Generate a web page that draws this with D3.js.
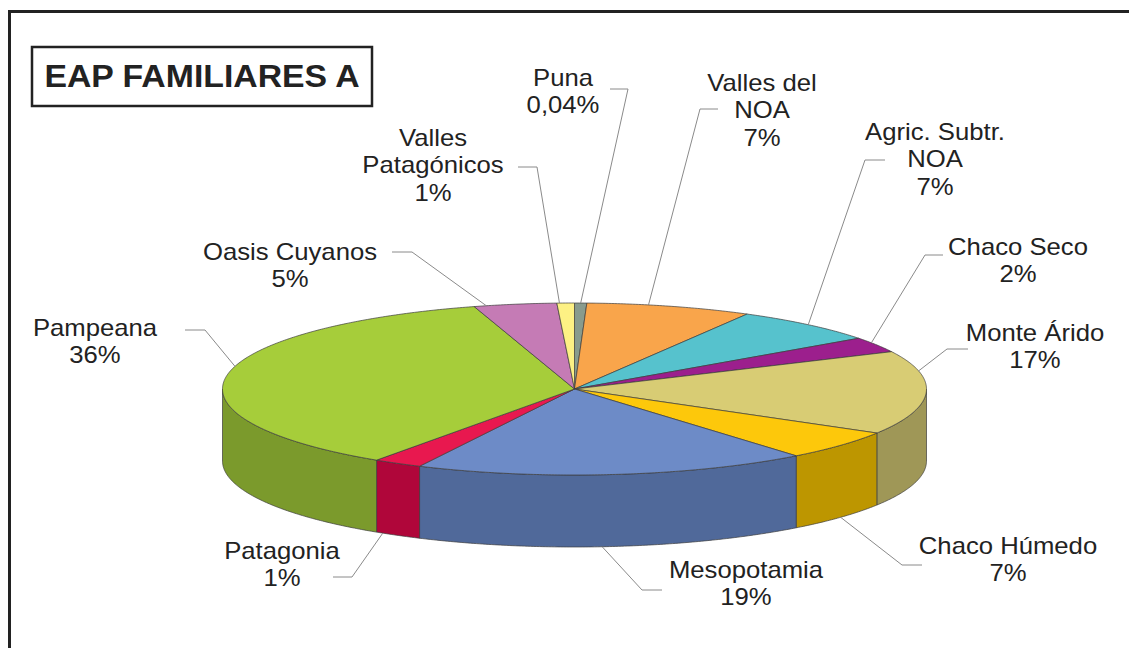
<!DOCTYPE html>
<html><head><meta charset="utf-8">
<script src="https://cdn.jsdelivr.net/npm/d3@7"></script>
<style>html,body{margin:0;padding:0;background:#fff;} svg{display:block;font-family:"Liberation Sans",Arial,sans-serif;}</style>
</head><body><svg id="c" width="1129" height="648"></svg>
<script>
// ---- data ----
const regions = ["Puna","Valles del NOA","Agric. Subtr. NOA","Chaco Seco","Monte Árido","Chaco Húmedo","Mesopotamia","Patagonia","Pampeana","Oasis Cuyanos","Valles Patagónicos"];
const sliceShares = [0.56, 7.6, 6.8, 2.9, 15.7, 5.6, 18.1, 2.25, 35.9, 3.8, 0.8];
const pctLabels = ["0,04%","7%","7%","2%","17%","7%","19%","1%","36%","5%","1%"];
const nameLines = [["Puna"],["Valles del","NOA"],["Agric. Subtr.","NOA"],["Chaco Seco"],["Monte Árido"],["Chaco Húmedo"],["Mesopotamia"],["Patagonia"],["Pampeana"],["Oasis Cuyanos"],["Valles","Patagónicos"]];
const topColors  = ["#889b8d","#f9a54b","#56c2cd","#9c1f8d","#d8cc74","#fdc80b","#6d8bc7","#e8184f","#a6cd3a","#c57bb5","#fdf184"];
const sideColors = ["#66756a","#c17e36","#3f959e","#74156a","#9f9757","#bd9600","#50699a","#b0063a","#7b9a2c","#955c88","#c2b862"];
const titleText = "EAP FAMILIARES A";

// ---- layout (annotation placement) ----
const labelX   = [563, 762, 935, 1018, 1035, 1008, 746, 282, 95, 290, 433];
const labelY   = [86, 91, 140, 255, 341, 554, 578, 559, 336, 260, 146];
const lineGap  = 27.3;
const leaderH  = [[610,628,89],[718,700,109],[885,865,160],[943,925,255],[968,947,349],[922,902,565],[662,642,590],[333,352,577],[185,205,330],[392,412,252],[518,537,167]];
const leaderT  = [0.5,0.37,0.5,0.35,0.24,0.5,0.53,0.85,0.55,0.15,0.15];

const W = 1129, H = 648;
const cx = 574.5, cy = 389, rx = 352, ry = 86, depth = 72;

const svg = d3.select("#c");

// frame
svg.append("path").attr("d", `M9.5,${H} L9.5,11.5 L${W},11.5`)
  .attr("fill","none").attr("stroke","#222").attr("stroke-width",3);

// title
svg.append("rect").attr("x",32).attr("y",47).attr("width",340).attr("height",59)
  .attr("fill","none").attr("stroke","#222").attr("stroke-width",2.5);
svg.append("text").attr("transform","translate(202,87) scale(1.09,1)")
  .attr("text-anchor","middle").attr("font-weight","bold").attr("font-size",31)
  .attr("fill","#222").text(titleText);

const pie = d3.pie().sort(null).value(d => d).startAngle(0).endAngle(2*Math.PI);
const arcs = pie(sliceShares);

const sx = d3.scaleLinear().domain([-1,1]).range([cx-rx, cx+rx]);
const sy = d3.scaleLinear().domain([-1,1]).range([cy-ry, cy+ry]);
const pt = (a, dz=0) => [sx(Math.sin(a)), sy(-Math.cos(a)) + dz];

function arcPts(a0, a1, dz=0) {
  const n = Math.max(2, Math.ceil((a1-a0)/(Math.PI/360)));
  return d3.range(n+1).map(i => pt(a0 + (a1-a0)*i/n, dz));
}
const line = d3.line();

// sides
const gSide = svg.append("g");
arcs.forEach((a, i) => {
  const s0 = Math.max(a.startAngle, Math.PI/2), s1 = Math.min(a.endAngle, 3*Math.PI/2);
  if (s1 <= s0) return;
  const pts = arcPts(s0, s1).concat(arcPts(s0, s1, depth).reverse());
  gSide.append("path").attr("d", line(pts) + "Z")
    .attr("fill", sideColors[i]).attr("stroke","#3c3c3c").attr("stroke-width",0.7)
    .attr("stroke-linejoin","round");
});

// tops
const gTop = svg.append("g");
arcs.forEach((a, i) => {
  const pts = [[cx,cy]].concat(arcPts(a.startAngle, a.endAngle));
  gTop.append("path").attr("d", line(pts) + "Z")
    .attr("fill", topColors[i]).attr("stroke","#3c3c3c").attr("stroke-width",0.7)
    .attr("stroke-linejoin","round");
});

// leaders
const gLead = svg.append("g");
arcs.forEach((a, i) => {
  const ang = a.startAngle + (a.endAngle - a.startAngle) * leaderT[i];
  const front = Math.cos(ang) < -0.3;
  const anchor = pt(ang, front ? depth : 0);
  const [x0, x1, y] = leaderH[i];
  gLead.append("path").attr("d", line([[x0,y],[x1,y],anchor]))
    .attr("fill","none").attr("stroke","#8a8a8a").attr("stroke-width",1);
});

// labels
const gLab = svg.append("g").attr("font-size",24).attr("fill","#222").attr("text-anchor","middle");
regions.forEach((r, i) => {
  const lines = nameLines[i].concat([pctLabels[i]]);
  lines.forEach((t, j) => {
    gLab.append("text")
      .attr("transform", `translate(${labelX[i]},${labelY[i] + j*lineGap}) scale(1.07,1)`)
      .text(t);
  });
});
</script></body></html>
